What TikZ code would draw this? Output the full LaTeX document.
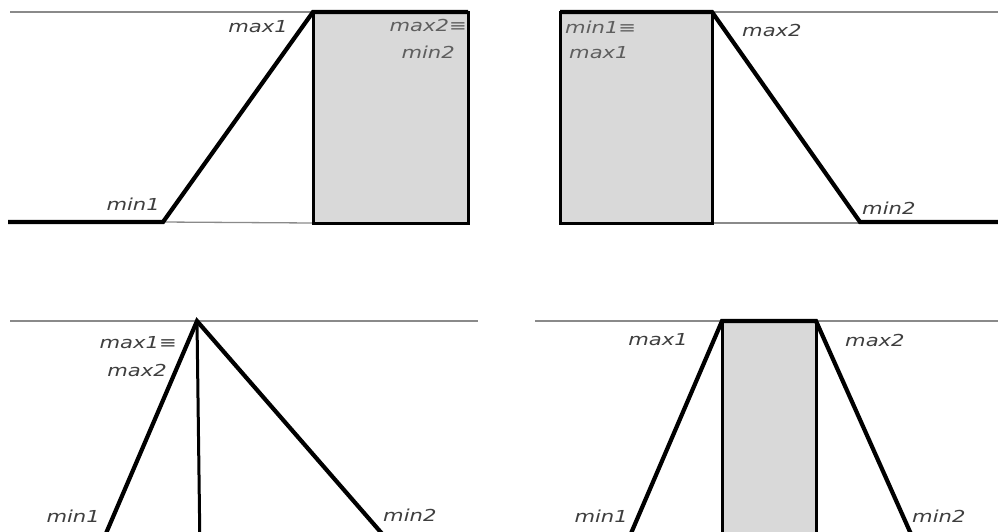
\documentclass[tikz,border=0pt]{standalone}
\usepackage{fontspec}
\newfontfamily\lblfont[FakeStretch=1.28]{DejaVu Sans}
\definecolor{boxgray}{HTML}{D9D9D9}
\definecolor{txtgray}{HTML}{3E3E3E}
\definecolor{txtlight}{HTML}{5E5E5E}
\definecolor{ruleg}{HTML}{8A8A8A}
\tikzset{
  guide/.style={draw=ruleg, line width=1.3pt},
  thickline/.style={draw=black, line width=4.2pt, line join=miter},
  boxfill/.style={fill=boxgray, draw=black, line width=3pt},
  midline/.style={draw=black, line width=3pt},
  lbl/.style={inner sep=0pt, text=txtgray, font=\lblfont\itshape\fontsize{16.5}{16.5}\selectfont},
  lbllight/.style={lbl, text=txtlight}
}
\begin{document}
\begin{tikzpicture}[x=1pt,y=-1pt]
\useasboundingbox (0,0) rectangle (998,531);
\clip (0,0) rectangle (998,531);
% ---------- top-left ----------
\coordinate (a0) at (8,222);
\coordinate (amin1) at (163,222);
\coordinate (amax1) at (313,12);
\coordinate (aR) at (468,12);
\coordinate (aRb) at (468,223);
\coordinate (aLb) at (313,223);
\coordinate (aTL) at (10,12);
\draw[guide] (aTL) -- (amax1);
\draw[guide] (amin1) -- (aLb);
\path[boxfill] (amax1) rectangle (aRb);
\draw[thickline] (a0) -- (amin1) -- (amax1) -- (aR);
\node[lbl, anchor=east] (a_l1) at (288,27) {max1};
\node[lbllight, anchor=east] (a_l2) at (467,25) {max2≡};
\node[lbllight, anchor=east] (a_l3) at (455,52) {min2};
\node[lbl, anchor=east] (a_l4) at (160,204) {min1};
% ---------- top-right ----------
\coordinate (bL) at (560,12);
\coordinate (bLb) at (560,222);
\coordinate (bmax2) at (712,12);
\coordinate (bRb) at (712,223);
\coordinate (bmin2) at (860,222);
\coordinate (bend) at (998,222);
\coordinate (bTR) at (998,12);
\coordinate (bbase) at (860,223);
\draw[guide] (bmax2) -- (bTR);
\draw[guide] (bRb) -- (bbase);
\path[boxfill] (bL) rectangle (bRb);
\draw[thickline] (bL) -- (bmax2) -- (bmin2) -- (bend);
\node[lbllight, anchor=west] (b_l1) at (565,27) {min1≡};
\node[lbllight, anchor=west] (b_l2) at (569,53) {max1};
\node[lbl, anchor=west] (b_l3) at (742,30) {max2};
\node[lbl, anchor=west] (b_l4) at (862,208) {min2};
% ---------- bottom-left ----------
\coordinate (cTL) at (10,321);
\coordinate (cTR) at (478,321);
\coordinate (capex) at (197,321);
\coordinate (cmin1) at (98,552);
\coordinate (cmid) at (200,552);
\coordinate (cmin2) at (398,552);
\draw[guide] (cTL) -- (cTR);
\draw[midline] (capex) -- (cmid);
\draw[thickline] (cmin1) -- (capex) -- (cmin2);
\node[lbl, anchor=east] (c_l1) at (177,343) {max1≡};
\node[lbl, anchor=east] (c_l2) at (167,370) {max2};
\node[lbl, anchor=east] (c_l3) at (100,516) {min1};
\node[lbl, anchor=west] (c_l4) at (383,515) {min2};
% ---------- bottom-right ----------
\coordinate (dTL) at (535,321);
\coordinate (dTR) at (998,321);
\coordinate (dmax1) at (722,321);
\coordinate (dmax2) at (816,321);
\coordinate (dmin1) at (623,552);
\coordinate (dmin2) at (919,552);
\coordinate (dbot) at (816,560);
\draw[guide] (dTL) -- (dTR);
\path[boxfill] (dmax1) rectangle (dbot);
\draw[thickline] (dmin1) -- (dmax1) -- (dmax2) -- (dmin2);
\node[lbl, anchor=east] (d_l1) at (688,340) {max1};
\node[lbl, anchor=west] (d_l2) at (845,340) {max2};
\node[lbl, anchor=east] (d_l3) at (628,516) {min1};
\node[lbl, anchor=west] (d_l4) at (912,516) {min2};
\end{tikzpicture}
\end{document}
